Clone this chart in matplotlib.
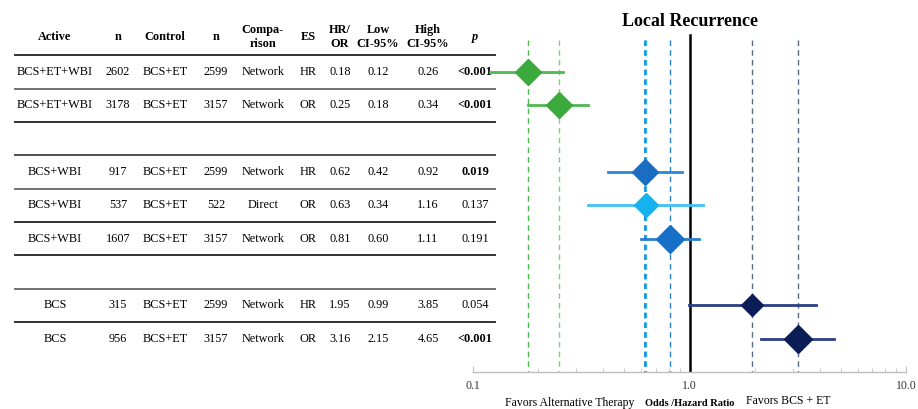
import numpy as np
import matplotlib.pyplot as plt

plt.rcParams['font.family'] = ['Liberation Serif', 'DejaVu Serif']

# table rows (None = spacer row)
active = ['BCS+ET+WBI', 'BCS+ET+WBI', None, 'BCS+WBI', 'BCS+WBI', 'BCS+WBI', None, 'BCS', 'BCS']
n_active = ['2602', '3178', None, '917', '537', '1607', None, '315', '956']
control = ['BCS+ET', 'BCS+ET', None, 'BCS+ET', 'BCS+ET', 'BCS+ET', None, 'BCS+ET', 'BCS+ET']
n_control = ['2599', '3157', None, '2599', '522', '3157', None, '2599', '3157']
comparison = ['Network', 'Network', None, 'Network', 'Direct', 'Network', None, 'Network', 'Network']
es = ['HR', 'OR', None, 'HR', 'OR', 'OR', None, 'HR', 'OR']
ratio = [0.18, 0.25, None, 0.62, 0.63, 0.81, None, 1.95, 3.16]
ci_low = [0.12, 0.18, None, 0.42, 0.34, 0.60, None, 0.99, 2.15]
ci_high = [0.26, 0.34, None, 0.92, 1.16, 1.11, None, 3.85, 4.65]
p_value = ['<0.001', '<0.001', None, '0.019', '0.137', '0.191', None, '0.054', '<0.001']
p_bold = [True, True, None, True, False, False, None, False, True]

headers = ['Active', 'n', 'Control', 'n', 'Compa-\nrison', 'ES', 'HR/\nOR', 'Low\nCI-95%', 'High\nCI-95%', 'p']

marker_colors = ['#3BA93B', '#3BA93B', None, '#1B6DC2', '#14B2EE', '#1670C8', None, '#0B1D57', '#0B1D57']
ci_colors = ['#4DB84D', '#4DB84D', None, '#2A88D6', '#3EC2F2', '#2A7CD0', None, '#2B3D86', '#2B3D86']
ref_colors = ['#4DB84D', '#82CF82', None, '#0A8AD8', '#35B8F2', '#2A80D6', None, '#5B6B85', '#5B6B85']
marker_sizes = [13, 13, None, 13, 12, 14, None, 11, 14]

W, H = 918, 409
row_h = 33.33
fig = plt.figure(figsize=(W / 100, H / 100), dpi=100)

y_bot_px = 372
ylims = (10, 10 - y_bot_px / row_h)
ax_bottom = (H - y_bot_px) / H
ax_height = y_bot_px / H

ax_t = fig.add_axes([0, ax_bottom, 473 / W, ax_height])
ax_t.set_xlim(0, 473)
ax_t.set_ylim(*ylims)
ax_t.axis('off')

ax = fig.add_axes([473 / W, ax_bottom, 433 / W, ax_height])
ax.patch.set_visible(False)
ax.set_xscale('log')
ax.set_xlim(0.1, 10)
ax.set_ylim(*ylims)

# table
col_x = [55, 118, 165, 216, 263, 308, 340, 378, 428, 475]
fs = 8.8
for x, h in zip(col_x, headers):
    if h == 'p':
        ax_t.text(x, -0.05, h, ha='center', va='center', fontsize=fs, style='italic', fontweight='bold')
    else:
        ax_t.text(x, -0.05, h, ha='center', va='center', fontsize=fs, fontweight='bold',
                  linespacing=1.3)

for i in range(len(active)):
    y = i + 1
    if active[i] is None:
        continue
    vals = [active[i], n_active[i], control[i], n_control[i], comparison[i], es[i],
            f'{ratio[i]:.2f}', f'{ci_low[i]:.2f}', f'{ci_high[i]:.2f}']
    for x, v in zip(col_x, vals):
        ax_t.text(x, y, v, ha='center', va='center', fontsize=fs)
    ax_t.text(col_x[-1], y, p_value[i], ha='center', va='center', fontsize=fs,
              fontweight='bold' if p_bold[i] else 'normal', clip_on=False, zorder=5)

sep_rows = [0.5, 1.5, 2.5, 3.5, 4.5, 5.5, 6.5, 7.5, 8.5]
sep_colors = ['#333333', '#707070', '#333333', '#505050', '#707070', '#333333', '#333333', '#707070', '#333333']
for yy, c in zip(sep_rows, sep_colors):
    ax_t.plot([15, 495], [yy, yy], color=c, lw=1.4, clip_on=False)

# reference lines
ax.plot([1, 1], [-0.1, 10], color='black', lw=1.8, zorder=2)
for i in range(len(ratio)):
    if ratio[i] is None:
        continue
    if i == 3:
        ls = (0, (2, 1.5))
        lw = 2.0
    else:
        ls = (0, (4, 3))
        lw = 1.0
    ax.plot([ratio[i], ratio[i]], [0.05, 10], color=ref_colors[i], lw=lw, ls=ls, zorder=1)

# estimates with confidence intervals
for i in range(len(ratio)):
    if ratio[i] is None:
        continue
    y = i + 1
    ax.plot([ci_low[i], ci_high[i]], [y, y], color=ci_colors[i], lw=2, zorder=3)
    ax.plot(ratio[i], y, marker='D', ms=marker_sizes[i], color=marker_colors[i],
            mec=marker_colors[i], zorder=4)

for s in ['top', 'left', 'right']:
    ax.spines[s].set_visible(False)
ax.spines['bottom'].set_color('#BFBFBF')
ax.spines['bottom'].set_linewidth(1)
ax.set_yticks([])
ax.set_xticks([0.1, 1, 10])
ax.set_xticklabels(['0.1', '1.0', '10.0'])
ax.tick_params(axis='x', which='major', direction='in', length=4, color='#BFBFBF',
               labelsize=8.5, labelcolor='#333333', pad=6)
ax.tick_params(axis='x', which='minor', direction='in', length=3, color='#BFBFBF',
               labelbottom=False)

fig.text(690 / W, 1 - 22 / H, 'Local Recurrence', ha='center', va='center',
         fontsize=13, fontweight='bold')
fig.text(570 / W, 1 - 403 / H, 'Favors Alternative Therapy', ha='center', va='center', fontsize=8.5)
fig.text(690 / W, 1 - 403 / H, 'Odds /Hazard Ratio', ha='center', va='center', fontsize=7.5,
         fontweight='bold')
fig.text(788 / W, 1 - 401 / H, 'Favors BCS + ET', ha='center', va='center', fontsize=8.5)

fig.savefig('out.png', dpi=100)
